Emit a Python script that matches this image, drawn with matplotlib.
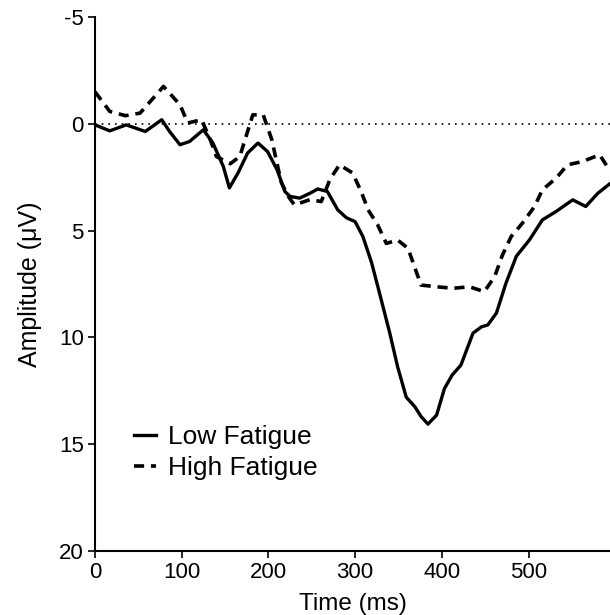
import matplotlib.pyplot as plt

plt.rcParams['font.family'] = ['Liberation Sans', 'DejaVu Sans']
plt.rcParams['axes.unicode_minus'] = False

# Low fatigue waveform (time ms, amplitude uV)
low_t = [0, 17, 36, 58, 77, 86, 98, 109, 125, 136, 148, 155, 165, 176, 188, 199,
         210, 219, 225, 236, 248, 257, 268, 280, 290, 300, 309, 319, 328, 340,
         349, 359, 369, 376, 384, 394, 403, 412, 422, 436, 446, 453, 463, 474,
         486, 501, 516, 532, 551, 566, 580, 594]
low_v = [0.05, 0.33, 0.05, 0.36, -0.19, 0.36, 0.98, 0.83, 0.28, 0.9, 2.0, 3.0,
         2.3, 1.37, 0.9, 1.3, 2.15, 3.17, 3.4, 3.48, 3.25, 3.05, 3.17, 4.03, 4.4,
         4.58, 5.28, 6.5, 7.9, 9.8, 11.37, 12.8, 13.25, 13.7, 14.06, 13.64, 12.4,
         11.76, 11.3, 9.8, 9.5, 9.42, 8.86, 7.46, 6.2, 5.44, 4.5, 4.1, 3.56, 3.87,
         3.25, 2.8]

# High fatigue waveform
high_t = [0, 17, 35, 52, 79, 98, 107, 123, 133, 140, 156, 167, 182, 194, 204,
          209, 215, 223, 230, 248, 261, 271, 282, 297, 307, 315, 326, 336, 349,
          361, 369, 376, 394, 413, 432, 449, 461, 470, 480, 493, 507, 516, 532,
          545, 562, 582, 594]
high_v = [-1.5, -0.58, -0.38, -0.5, -1.75, -0.89, -0.04, -0.19, 0.75, 1.53, 1.87,
          1.53, -0.42, -0.42, 0.75, 1.69, 2.76, 3.4, 3.8, 3.55, 3.64, 2.6, 1.92,
          2.3, 3.17, 4.03, 4.73, 5.6, 5.44, 5.83, 6.75, 7.55, 7.63, 7.7, 7.63,
          7.86, 7.15, 6.14, 5.28, 4.65, 3.87, 3.09, 2.54, 1.92, 1.77, 1.45, 2.2]

fig = plt.figure(figsize=(6.1, 6.15), dpi=100)
ax = fig.add_axes([95 / 610, 64 / 615, 1 - 95 / 610, (551 - 17) / 615])

ax.axhline(0, color='black', linestyle=(0, (1, 3)), linewidth=1.2)
ax.plot(low_t, low_v, color='black', linewidth=2.4, solid_joinstyle='round',
        label='Low Fatigue')
ax.plot(high_t, high_v, color='black', linewidth=2.6, linestyle=(0, (2.8, 1.9)),
        label='High Fatigue')

ax.set_xlim(0, 594)
ax.set_ylim(20, -5)
ax.set_xticks([0, 100, 200, 300, 400, 500])
ax.set_yticks([-5, 0, 5, 10, 15, 20])
ax.tick_params(labelsize=16, length=5, width=1.2, direction='out', pad=3)
for s in ['top', 'right']:
    ax.spines[s].set_visible(False)
for s in ['left', 'bottom']:
    ax.spines[s].set_linewidth(1.5)

ax.set_xlabel('Time (ms)', fontsize=17.5, labelpad=7)
ax.set_ylabel('Amplitude (μV)', fontsize=18, labelpad=12)

ax.legend(loc='upper left', bbox_to_anchor=(0.055, 0.255), frameon=False,
          fontsize=19, handlelength=0.85, handletextpad=0.45, labelspacing=0.25,
          borderaxespad=0)

fig.savefig('out.png', dpi=100)
